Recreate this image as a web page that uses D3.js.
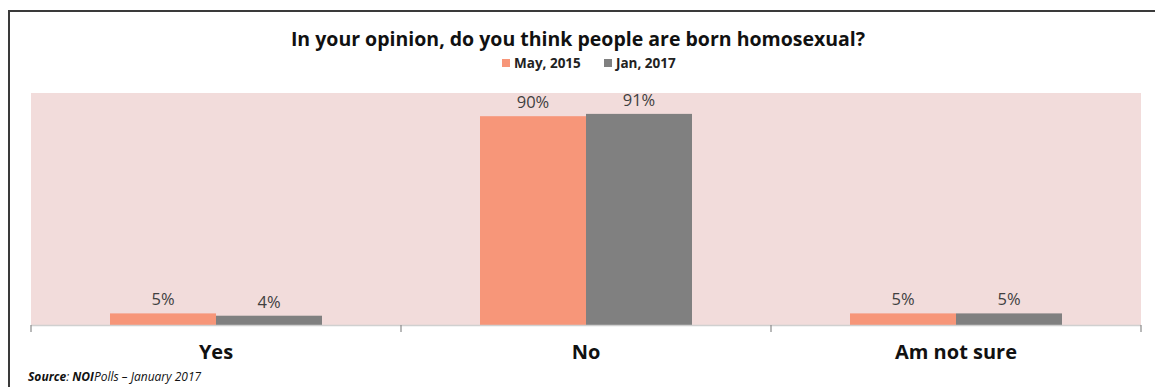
<!DOCTYPE html>
<html>
<head>
<meta charset="utf-8">
<script src="https://cdn.jsdelivr.net/npm/d3@7"></script>
<style>
  html, body { margin: 0; padding: 0; background: #fff; }
  svg { display: block; }
</style>
</head>
<body>
<svg id="chart" width="1155" height="387"></svg>
<script>
// Survey answers and the two polling waves
const categories = ["Yes", "No", "Am not sure"];
const seriesNames = ["May, 2015", "Jan, 2017"];
const may2015 = [5, 90, 5];
const jan2017 = [4, 91, 5];
const seriesColors = ["#f79679", "#808080"];

const svg = d3.select("#chart");
const W = 1155, H = 387;
const plot = { left: 31, right: 1141, top: 93, bottom: 325 };

// Frame lines (top and left edges)
svg.append("path")
  .attr("d", `M9,${H} L9,11 L${W},11`)
  .attr("fill", "none")
  .attr("stroke", "#3a3a3a")
  .attr("stroke-width", 2);

// Title
svg.append("text")
  .attr("x", 578).attr("y", 46)
  .attr("text-anchor", "middle")
  .attr("font-family", "'Open Sans', sans-serif")
  .attr("font-weight", "bold")
  .attr("font-size", 19.5)
  .attr("fill", "#111")
  .text("In your opinion, do you think people are born homosexual?");

// Legend
const legend = svg.append("g").attr("transform", "translate(502,68)");
const legendX = [0, 102];
seriesNames.forEach((name, i) => {
  const g = legend.append("g").attr("transform", `translate(${legendX[i]},0)`);
  g.append("rect").attr("x", 0).attr("y", -9).attr("width", 8).attr("height", 8)
    .attr("fill", seriesColors[i]);
  g.append("text").attr("x", 12).attr("y", 0)
    .attr("font-family", "'Open Sans', sans-serif")
    .attr("font-weight", "bold").attr("font-size", 13.5).attr("fill", "#222")
    .text(name);
});

// Scales
const x = d3.scaleBand().domain(categories).range([plot.left, plot.right]).paddingInner(0).paddingOuter(0);
const inner = d3.scaleBand().domain(d3.range(seriesNames.length)).range([79, x.bandwidth() - 79]).padding(0);
const y = d3.scaleLinear().domain([0, 100]).range([plot.bottom, plot.top]);

// Plot background
svg.append("rect")
  .attr("x", plot.left).attr("y", plot.top)
  .attr("width", plot.right - plot.left).attr("height", plot.bottom - plot.top)
  .attr("fill", "#f2dcdb");

// Bars and value labels
const series = [may2015, jan2017];
series.forEach((vals, si) => {
  const g = svg.append("g");
  g.selectAll("rect").data(categories).join("rect")
    .attr("x", (c) => x(c) + inner(si))
    .attr("y", (c, i) => y(vals[i]))
    .attr("width", inner.bandwidth())
    .attr("height", (c, i) => y(0) - y(vals[i]))
    .attr("fill", seriesColors[si]);
  g.selectAll("text").data(categories).join("text")
    .attr("x", (c) => x(c) + inner(si) + inner.bandwidth() / 2)
    .attr("y", (c, i) => y(vals[i]) - 8)
    .attr("text-anchor", "middle")
    .attr("font-family", "'Open Sans', sans-serif")
    .attr("font-size", 16.5)
    .attr("fill", "#404040")
    .text((c, i) => vals[i] + "%");
});

// Category axis with ticks at band boundaries
const axisG = svg.append("g");
axisG.append("line")
  .attr("x1", plot.left).attr("x2", plot.right)
  .attr("y1", plot.bottom + 0.5).attr("y2", plot.bottom + 0.5)
  .attr("stroke", "#d0d0d0").attr("stroke-width", 1.5);
const boundaries = categories.map((c) => x(c)).concat([x(categories[categories.length - 1]) + x.bandwidth()]);
axisG.selectAll("line.tick").data(boundaries).join("line")
  .attr("class", "tick")
  .attr("x1", (d) => d).attr("x2", (d) => d)
  .attr("y1", plot.bottom).attr("y2", plot.bottom + 7)
  .attr("stroke", "#8a8a8a").attr("stroke-width", 1.2);
axisG.selectAll("text").data(categories).join("text")
  .attr("x", (c) => x(c) + x.bandwidth() / 2)
  .attr("y", 359)
  .attr("text-anchor", "middle")
  .attr("font-family", "'Open Sans', sans-serif")
  .attr("font-weight", "bold")
  .attr("font-size", 20)
  .attr("fill", "#111")
  .text((c) => c);

// Source note
const src = svg.append("text")
  .attr("x", 28).attr("y", 381)
  .attr("font-family", "'Open Sans', sans-serif")
  .attr("font-style", "italic")
  .attr("font-size", 12)
  .attr("fill", "#111");
src.append("tspan").attr("font-weight", "bold").text("Source");
src.append("tspan").text(": ");
src.append("tspan").attr("font-weight", "bold").text("NOI");
src.append("tspan").text("Polls – January 2017");
</script>
</body>
</html>
